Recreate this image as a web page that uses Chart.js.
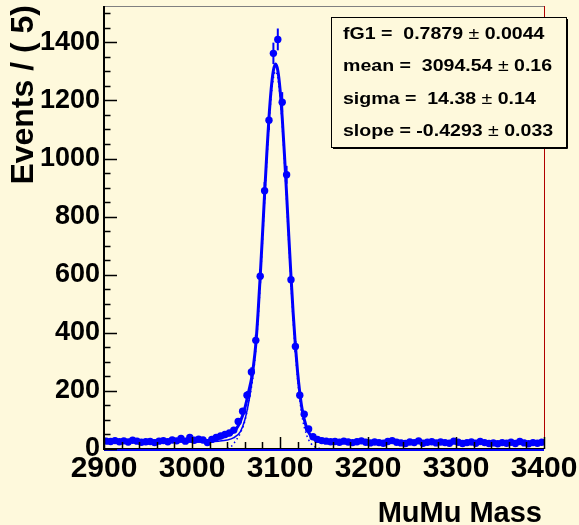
<!DOCTYPE html>
<html>
<head>
<meta charset="utf-8">
<script src="https://cdn.jsdelivr.net/npm/chart.js@4.4.1/dist/chart.umd.min.js"></script>
<style>
  html, body { margin: 0; padding: 0; background: #fef9dc; }
  canvas { display: block; }
</style>
</head>
<body>
<canvas id="massChart" width="579" height="525"></canvas>
<script>
// binning of the histogram
const massLow = 2900;
const massHigh = 3400;
const binWidth = 5;

// events per 5 MeV bin (bins 2900-2905 ... 3395-3400)
const events = [
  27, 26, 29, 25, 28, 24, 30, 27, 23, 25,       // 2900-2950
  26, 22, 27, 29, 25, 31, 28, 36, 27, 40,       // 2950-3000
  30, 34, 31, 22, 33, 40, 45, 50, 55, 65,       // 3000-3050
  95, 130, 185, 265, 374, 595, 889, 1132, 1362, 1410, // 3050-3100
  1194, 944, 583, 353, 185, 120, 69, 42, 33, 29, // 3100-3150
  27, 25, 26, 23, 27, 24, 22, 25, 28, 23,       // 3150-3200
  21, 24, 22, 20, 26, 29, 23, 21, 19, 24,       // 3200-3250
  22, 28, 20, 23, 25, 21, 24, 22, 20, 27,       // 3250-3300
  23, 19, 22, 24, 20, 26, 22, 19, 21, 18,       // 3300-3350
  22, 20, 23, 19, 26, 21, 18, 22, 20, 23        // 3350-3400
];

// total fit curve
const fitMass = [2900, 2950, 3000, 3020, 3030, 3040, 3045, 3050, 3055, 3060, 3065, 3067.5, 3070, 3072.5,
  3075, 3077.5, 3080, 3082.5, 3085, 3087.5, 3090, 3092.5, 3095, 3097.5, 3100, 3102.5, 3105, 3107.5,
  3110, 3112.5, 3115, 3117.5, 3120, 3122.5, 3125, 3130, 3135, 3140, 3145, 3150, 3200, 3300, 3400];
const fitTotal = [29, 28, 27, 30, 36, 46, 54, 68, 95, 140, 205, 240, 290, 360,
  466, 594, 733, 878, 1017, 1142, 1240, 1303, 1325, 1303, 1240, 1142, 1017, 878,
  733, 594, 466, 356, 265, 194, 139, 75, 45, 32, 27, 25, 24, 22, 20];

// narrow component + background (thin line)
const compMass = [2900, 3000, 3020, 3030, 3040, 3047, 3055, 3060, 3065, 3070];
const compValues = [25, 24, 25, 27, 31, 38, 60, 100, 170, 270];

// signal only (dotted line)
const sigMass = [3040, 3045, 3050, 3055, 3060, 3065, 3070, 3075, 3080, 3085, 3090, 3095,
  3100, 3105, 3110, 3115, 3120, 3125, 3130, 3135, 3140, 3145, 3150];
const sigValues = [2, 10, 30, 55, 95, 170, 265, 441, 708, 992, 1215, 1300,
  1215, 992, 708, 441, 240, 114, 50, 20, 7, 2, 0];

// axis ticks
const xTicks = [2900, 3000, 3100, 3200, 3300, 3400];
const yTicks = [0, 200, 400, 600, 800, 1000, 1200, 1400];
const yMax = 1525;

// fit parameters box
const parNames = ["fG1", "mean", "sigma", "slope"];
const parValues = ["0.7879", "3094.54", "14.38", "-0.4293"];
const parErrors = ["0.0044", "0.16", "0.14", "0.033"];

const BLUE = "#0000ff";
const BG = "#fef9dc";
const FONT = "'Liberation Sans', Arial, Helvetica, sans-serif";

const dataPoints = events.map((n, i) => ({ x: massLow + binWidth * (i + 0.5), y: n }));
const toXY = (xs, ys) => xs.map((x, i) => ({ x: x, y: ys[i] }));

// canvas background
const bgPlugin = {
  id: "bg",
  beforeDraw(chart) {
    const ctx = chart.ctx;
    ctx.save();
    ctx.fillStyle = BG;
    ctx.fillRect(0, 0, chart.width, chart.height);
    ctx.restore();
  }
};

// x and y error bars of the data points
const errorBars = {
  id: "errorBars",
  afterDatasetsDraw(chart) {
    const ctx = chart.ctx;
    const xs = chart.scales.x, ys = chart.scales.y;
    const area = chart.chartArea;
    ctx.save();
    ctx.beginPath();
    ctx.rect(area.left, area.top - 2, area.right - area.left, area.bottom - area.top + 2);
    ctx.clip();
    ctx.strokeStyle = BLUE;
    dataPoints.forEach(p => {
      const err = Math.sqrt(p.y);
      const px = xs.getPixelForValue(p.x);
      const py = ys.getPixelForValue(p.y);
      ctx.lineWidth = 2;
      ctx.beginPath();
      ctx.moveTo(px, ys.getPixelForValue(p.y - err));
      ctx.lineTo(px, ys.getPixelForValue(p.y + err));
      ctx.stroke();
      ctx.lineWidth = 2.5;
      ctx.beginPath();
      ctx.moveTo(xs.getPixelForValue(p.x - binWidth / 2), py);
      ctx.lineTo(xs.getPixelForValue(p.x + binWidth / 2), py);
      ctx.stroke();
    });
    ctx.restore();
  }
};

// frame, inner tick marks, axis titles and the parameter box
const decorations = {
  id: "decorations",
  afterDraw(chart) {
    const ctx = chart.ctx;
    const xs = chart.scales.x, ys = chart.scales.y;
    const a = chart.chartArea;
    ctx.save();

    // frame
    ctx.lineWidth = 1;
    ctx.strokeStyle = "#808080";
    ctx.beginPath();
    ctx.moveTo(a.left, a.top + 0.5);
    ctx.lineTo(a.right, a.top + 0.5);
    ctx.stroke();
    ctx.strokeStyle = "#b00000";
    ctx.beginPath();
    ctx.moveTo(a.right + 0.5, a.top);
    ctx.lineTo(a.right + 0.5, a.bottom);
    ctx.stroke();

    ctx.strokeStyle = "#000";
    ctx.lineWidth = 2;
    ctx.beginPath();
    ctx.moveTo(a.left, a.top);
    ctx.lineTo(a.left, a.bottom + 1);
    ctx.stroke();
    ctx.lineWidth = 1;
    ctx.beginPath();
    ctx.moveTo(a.left, a.bottom - 0.5);
    ctx.lineTo(a.right, a.bottom - 0.5);
    ctx.stroke();
    ctx.strokeStyle = BLUE;
    ctx.lineWidth = 2;
    ctx.beginPath();
    ctx.moveTo(a.left, a.bottom + 1);
    ctx.lineTo(a.right, a.bottom + 1);
    ctx.stroke();

    // ticks
    ctx.strokeStyle = "#000";
    ctx.lineWidth = 1.5;
    ctx.beginPath();
    for (let v = 0; v <= yMax; v += 50) {
      const py = Math.round(ys.getPixelForValue(v)) + 0.5;
      const len = v % 200 === 0 ? 13 : 6.5;
      ctx.moveTo(a.left, py);
      ctx.lineTo(a.left + len, py);
    }
    for (let v = massLow; v <= massHigh; v += 20) {
      const px = Math.round(xs.getPixelForValue(v)) + 0.5;
      const len = v % 100 === 0 ? 12 : 7;
      ctx.moveTo(px, a.bottom);
      ctx.lineTo(px, a.bottom - len);
    }
    ctx.stroke();

    // axis titles
    ctx.fillStyle = "#000";
    ctx.font = "bold 32px " + FONT;
    ctx.save();
    ctx.translate(33, 5);
    ctx.rotate(-Math.PI / 2);
    ctx.textAlign = "right";
    ctx.textBaseline = "alphabetic";
    ctx.fillText("Events / ( 5)", 0, 0);
    ctx.restore();

    ctx.font = "bold 29px " + FONT;
    ctx.textAlign = "right";
    ctx.textBaseline = "alphabetic";
    ctx.fillText("MuMu Mass", 542, 522);

    // parameter box
    const bx = 331, by = 17, bw = 235, bh = 130;
    ctx.fillStyle = BG;
    ctx.fillRect(bx, by, bw, bh);
    ctx.strokeStyle = "#000";
    ctx.lineWidth = 1;
    ctx.strokeRect(bx + 0.5, by + 0.5, bw, bh);
    ctx.beginPath();
    ctx.moveTo(bx + bw + 1.5, by + 2);
    ctx.lineTo(bx + bw + 1.5, by + bh + 1.5);
    ctx.lineTo(bx + 2, by + bh + 1.5);
    ctx.stroke();

    ctx.fillStyle = "#000";
    ctx.textAlign = "left";
    const sx = 1.15;
    parNames.forEach((name, i) => {
      const yb = 39 + i * 32.3;
      ctx.save();
      ctx.translate(343, yb);
      ctx.scale(sx, 1);
      const gap = parValues[i].startsWith("-") ? " " : "  ";
      const first = name + " =" + gap + parValues[i] + " ";
      ctx.font = "bold 17px " + FONT;
      ctx.fillText(first, 0, 0);
      let x = ctx.measureText(first).width;
      ctx.font = "17px " + FONT;
      ctx.fillText("\u00b1", x, 0);
      x += ctx.measureText("\u00b1").width;
      ctx.font = "bold 17px " + FONT;
      ctx.fillText(" " + parErrors[i], x, 0);
      ctx.restore();
    });

    ctx.restore();
  }
};

const ctx = document.getElementById("massChart").getContext("2d");
new Chart(ctx, {
  type: "scatter",
  data: {
    datasets: [
      {
        label: "data",
        data: dataPoints,
        pointRadius: 3.7,
        pointBackgroundColor: BLUE,
        pointBorderWidth: 0,
        showLine: false
      },
      {
        label: "fit",
        data: toXY(fitMass, fitTotal),
        showLine: true,
        borderColor: BLUE,
        borderWidth: 3,
        pointRadius: 0,
        cubicInterpolationMode: "monotone"
      },
      {
        label: "narrow + bkg",
        data: toXY(compMass, compValues),
        showLine: true,
        borderColor: BLUE,
        borderWidth: 1.5,
        pointRadius: 0,
        cubicInterpolationMode: "monotone"
      },
      {
        label: "signal",
        data: toXY(sigMass, sigValues),
        showLine: true,
        borderColor: BLUE,
        borderWidth: 1.5,
        borderDash: [1.5, 3],
        pointRadius: 0,
        cubicInterpolationMode: "monotone"
      }
    ]
  },
  options: {
    responsive: false,
    animation: false,
    events: [],
    layout: { padding: { top: 6, right: 35, left: 0, bottom: 0 } },
    plugins: {
      legend: { display: false },
      tooltip: { enabled: false }
    },
    scales: {
      x: {
        type: "linear",
        min: massLow,
        max: massHigh,
        grid: { display: false, drawTicks: false },
        border: { display: false },
        afterBuildTicks: s => { s.ticks = xTicks.map(v => ({ value: v })); },
        afterFit: s => {
          s.height = 76;
          s.paddingLeft = 0;
          s.paddingRight = 0;
        },
        ticks: {
          color: "#000",
          padding: 2,
          maxRotation: 0,
          autoSkip: false,
          callback: v => String(v),
          font: { family: FONT, size: 30, weight: "bold" }
        }
      },
      y: {
        type: "linear",
        min: 0,
        max: yMax,
        grid: { display: false, drawTicks: false },
        border: { display: false },
        afterBuildTicks: s => { s.ticks = yTicks.map(v => ({ value: v })); },
        afterFit: s => {
          s.width = 104;
          s.paddingTop = 0;
          s.paddingBottom = 0;
        },
        ticks: {
          color: "#000",
          padding: 4,
          callback: v => String(v),
          font: { family: FONT, size: 27, weight: "bold" }
        }
      }
    }
  },
  plugins: [bgPlugin, errorBars, decorations]
});
</script>
</body>
</html>
